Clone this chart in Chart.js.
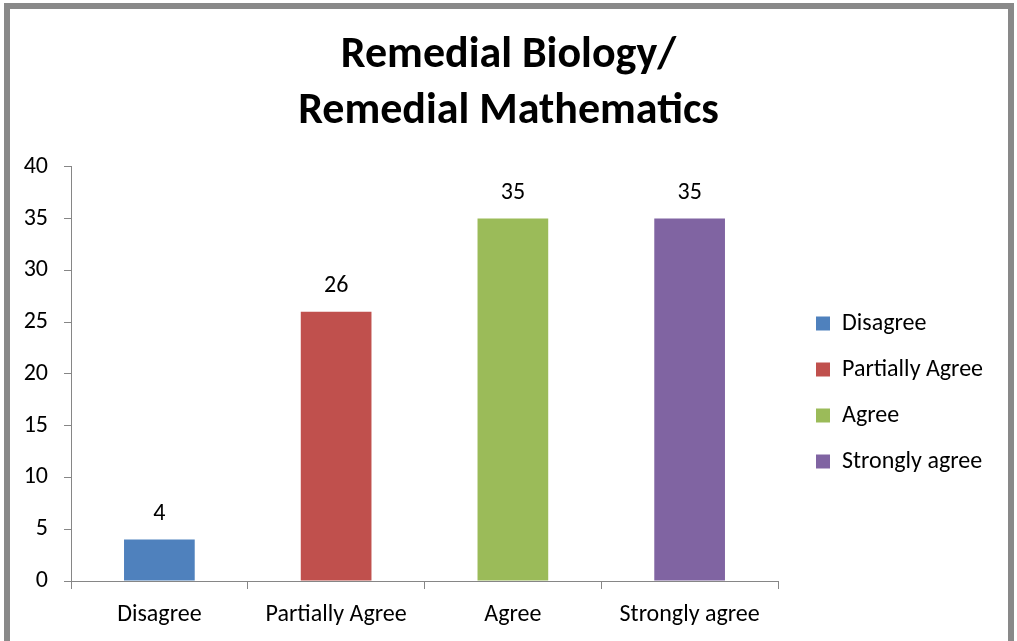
<!DOCTYPE html>
<html>
<head>
<meta charset="utf-8">
<script src="https://cdn.jsdelivr.net/npm/chart.js@4"></script>
<style>
  html, body { margin: 0; padding: 0; background: #fff; overflow: hidden; }
  #wrap { position: relative; width: 1017px; height: 641px; }
  #frame {
    position: absolute; left: 4px; top: 3px; width: 998px; height: 700px;
    border: 6px solid #898989; pointer-events: none;
  }
  canvas { position: absolute; left: 0; top: 0; }
</style>
</head>
<body>
<div id="wrap">
  <canvas id="chart" width="1017" height="641"></canvas>
  <div id="frame"></div>
</div>
<script>
// data
const categories = ["Disagree", "Partially Agree", "Agree", "Strongly agree"];
const responses = [4, 26, 35, 35];
const barColors = ["#4F81BD", "#C0504D", "#9BBB59", "#8064A2"];
const titleLines = ["Remedial Biology/", "Remedial Mathematics"];

const fontFamily = "Carlito, Calibri, Lato, 'Open Sans', sans-serif";
const textSize = 24;
const axisGray = "#868686";

// value labels above each bar
const valueLabels = {
  id: "valueLabels",
  afterDatasetsDraw(chart) {
    const ctx = chart.ctx;
    const meta = chart.getDatasetMeta(0);
    ctx.save();
    ctx.font = textSize + "px " + fontFamily;
    ctx.fillStyle = "#000";
    ctx.textAlign = "center";
    ctx.textBaseline = "middle";
    meta.data.forEach((bar, i) => {
      ctx.fillText(String(responses[i]), bar.x, bar.y - 26);
    });
    ctx.restore();
  }
};

// fixed legend width, then nudge it right of the plot and down
const legendPlace = {
  id: "legendPlace",
  beforeUpdate(chart) {
    const lg = chart.legend;
    if (lg && !lg._fixedFit) {
      const fit = lg.fit;
      lg.fit = function () {
        fit.call(this);
        this.width = 239;
      };
      lg._fixedFit = true;
    }
  },
  afterLayout(chart) {
    const lg = chart.legend;
    const dx = 16, dy = 72;
    lg.left += dx;
    lg.right += dx;
    lg.top += dy;
    lg.bottom += dy;
  }
};

new Chart(document.getElementById("chart"), {
  type: "bar",
  data: {
    labels: categories,
    datasets: [{
      label: "Responses",
      data: responses,
      backgroundColor: barColors,
      borderWidth: 0,
      categoryPercentage: 1,
      barPercentage: 0.4
    }]
  },
  options: {
    responsive: false,
    animation: false,
    layout: { padding: 0 },
    plugins: {
      title: {
        display: true,
        text: titleLines,
        color: "#000",
        font: { family: fontFamily, size: 44, weight: "bold", lineHeight: 1.27 },
        padding: { top: 28, bottom: 27 }
      },
      legend: {
        position: "right",
        labels: {
          color: "#000",
          font: { family: fontFamily, size: textSize },
          boxWidth: 14,
          boxHeight: 14,
          padding: 22,
          generateLabels() {
            return categories.map((c, i) => ({
              text: c,
              fillStyle: barColors[i],
              strokeStyle: barColors[i],
              lineWidth: 0,
              index: i
            }));
          }
        }
      },
      tooltip: { enabled: false }
    },
    scales: {
      x: {
        grid: {
          display: true,
          drawOnChartArea: false,
          offset: true,
          color: axisGray,
          tickLength: 8
        },
        border: { display: true, color: axisGray, width: 1 },
        ticks: {
          color: "#000",
          font: { family: fontFamily, size: textSize },
          padding: 12,
          maxRotation: 0
        },
        afterFit(scale) { scale.height = 60; }
      },
      y: {
        min: 0,
        max: 40,
        ticks: {
          stepSize: 5,
          color: "#000",
          font: { family: fontFamily, size: textSize },
          padding: 16
        },
        grid: {
          display: true,
          drawOnChartArea: false,
          color: axisGray,
          tickLength: 7
        },
        border: { display: true, color: axisGray, width: 1 },
        afterFit(scale) { scale.width = 71; }
      }
    }
  },
  plugins: [valueLabels, legendPlace]
});
</script>
</body>
</html>
